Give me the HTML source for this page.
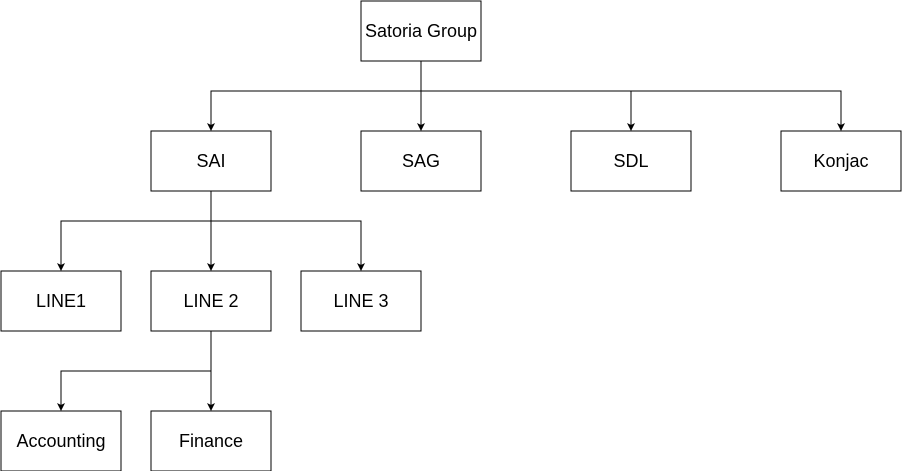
<!DOCTYPE html>
<html><head><style>body{margin:0;background:#fff}svg{display:block}</style></head>
<body>
<svg width="902" height="471" viewBox="0 0 902 471" xmlns="http://www.w3.org/2000/svg" font-family="Liberation Sans, Arial, sans-serif" font-size="18">
<defs><marker id="a" markerWidth="8" markerHeight="8" refX="7" refY="4" orient="auto" markerUnits="userSpaceOnUse"><path d="M0,0 L8,4 L0,8 L2,4 Z" fill="#000"/></marker></defs>
<g fill="none" stroke="#000" stroke-width="1">
<path d="M421 61V91H211V130" marker-end="url(#a)"/>
<path d="M421 91V130" marker-end="url(#a)"/>
<path d="M421 91H631V130" marker-end="url(#a)"/>
<path d="M631 91H841V130" marker-end="url(#a)"/>
<path d="M211 191V221H61V270" marker-end="url(#a)"/>
<path d="M211 221V270" marker-end="url(#a)"/>
<path d="M211 221H361V270" marker-end="url(#a)"/>
<path d="M211 331V371H61V410" marker-end="url(#a)"/>
<path d="M211 371V410" marker-end="url(#a)"/>
</g>
<g fill="#fff" stroke="#000">
<rect x="361" y="1" width="120" height="60"/>
<rect x="151" y="131" width="120" height="60"/>
<rect x="361" y="131" width="120" height="60"/>
<rect x="571" y="131" width="120" height="60"/>
<rect x="781" y="131" width="120" height="60"/>
<rect x="1" y="271" width="120" height="60"/>
<rect x="151" y="271" width="120" height="60"/>
<rect x="301" y="271" width="120" height="60"/>
<rect x="1" y="411" width="120" height="60"/>
<rect x="151" y="411" width="120" height="60"/>
</g>
<g text-anchor="middle" fill="#000">
<text x="421" y="37">Satoria Group</text>
<text x="211" y="167">SAI</text>
<text x="421" y="167">SAG</text>
<text x="631" y="167">SDL</text>
<text x="841" y="167">Konjac</text>
<text x="61" y="307">LINE1</text>
<text x="211" y="307">LINE 2</text>
<text x="361" y="307">LINE 3</text>
<text x="61" y="447">Accounting</text>
<text x="211" y="447">Finance</text>
</g>
</svg>
</body></html>
